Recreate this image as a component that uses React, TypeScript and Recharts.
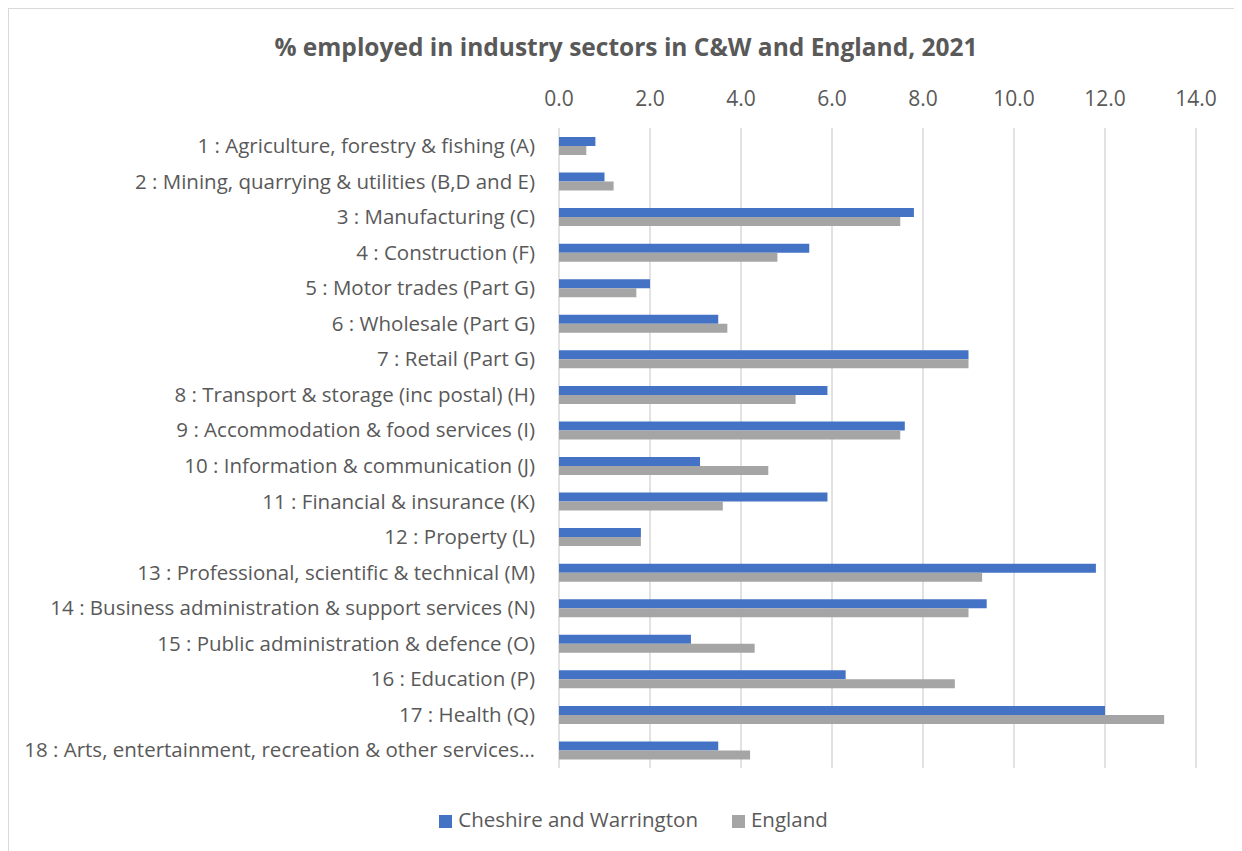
import React from "react";
import {
  BarChart,
  Bar,
  XAxis,
  YAxis,
  CartesianGrid,
  Legend,
} from "recharts";

const sectors = [
  "1 : Agriculture, forestry & fishing (A)",
  "2 : Mining, quarrying & utilities (B,D and E)",
  "3 : Manufacturing (C)",
  "4 : Construction (F)",
  "5 : Motor trades (Part G)",
  "6 : Wholesale (Part G)",
  "7 : Retail (Part G)",
  "8 : Transport & storage (inc postal) (H)",
  "9 : Accommodation & food services (I)",
  "10 : Information & communication (J)",
  "11 : Financial & insurance (K)",
  "12 : Property (L)",
  "13 : Professional, scientific & technical (M)",
  "14 : Business administration & support services (N)",
  "15 : Public administration & defence (O)",
  "16 : Education (P)",
  "17 : Health (Q)",
  "18 : Arts, entertainment, recreation & other services…",
];

const cheshireWarrington = [0.8, 1.0, 7.8, 5.5, 2.0, 3.5, 9.0, 5.9, 7.6, 3.1, 5.9, 1.8, 11.8, 9.4, 2.9, 6.3, 12.0, 3.5];
const england = [0.6, 1.2, 7.5, 4.8, 1.7, 3.7, 9.0, 5.2, 7.5, 4.6, 3.6, 1.8, 9.3, 9.0, 4.3, 8.7, 13.3, 4.2];

const xTicks = [0, 2, 4, 6, 8, 10, 12, 14];

const data = sectors.map((name, i) => ({
  name,
  cw: cheshireWarrington[i],
  eng: england[i],
}));

const FONT = "'Open Sans', sans-serif";
const TEXT = "#595959";

export default function App() {
  return (
    <div
      style={{
        position: "relative",
        width: 1240,
        height: 843,
        borderTop: "1px solid #d9d9d9",
        borderLeft: "1px solid #d9d9d9",
        background: "#fff",
        fontFamily: FONT,
      }}
    >
      <div
        style={{
          position: "absolute",
          top: 21,
          left: 0,
          width: 1234,
          textAlign: "center",
          fontSize: 24.5,
          fontWeight: 700,
          color: TEXT,
        }}
      >
        % employed in industry sectors in C&amp;W and England, 2021
      </div>
      <BarChart
        width={1229}
        height={842}
        data={data}
        layout="vertical"
        margin={{ top: 89, right: 42, bottom: 55, left: 0 }}
        barGap={0}
        barCategoryGap="25%"
        style={{ position: "absolute", top: 0, left: 0 }}
      >
        <CartesianGrid horizontal={false} stroke="#d9d9d9" strokeWidth={1.5} />
        <XAxis
          type="number"
          orientation="top"
          domain={[0, 14]}
          ticks={xTicks}
          tickFormatter={(v: number) => v.toFixed(1)}
          axisLine={false}
          tickLine={false}
          height={30}
          tickMargin={16}
          tick={{ fill: TEXT, fontSize: 21, fontFamily: FONT }}
        />
        <YAxis
          type="category"
          dataKey="name"
          width={550}
          axisLine={false}
          tickLine={false}
          tickMargin={18}
          interval={0}
          tick={{ fill: TEXT, fontSize: 20.5, fontFamily: FONT }}
        />
        <Bar dataKey="cw" name="Cheshire and Warrington" fill="#4472c4" barSize={9} isAnimationActive={false} />
        <Bar dataKey="eng" name="England" fill="#a5a5a5" barSize={9} isAnimationActive={false} />
        <Legend
          verticalAlign="bottom"
          align="center"
          iconType="square"
          iconSize={13}
          wrapperStyle={{ bottom: 18, left: 48, fontSize: 20.5, fontFamily: FONT }}
          formatter={(value: string) => (
            <span style={{ color: TEXT, marginLeft: 2, marginRight: 24 }}>{value}</span>
          )}
        />
      </BarChart>
    </div>
  );
}
